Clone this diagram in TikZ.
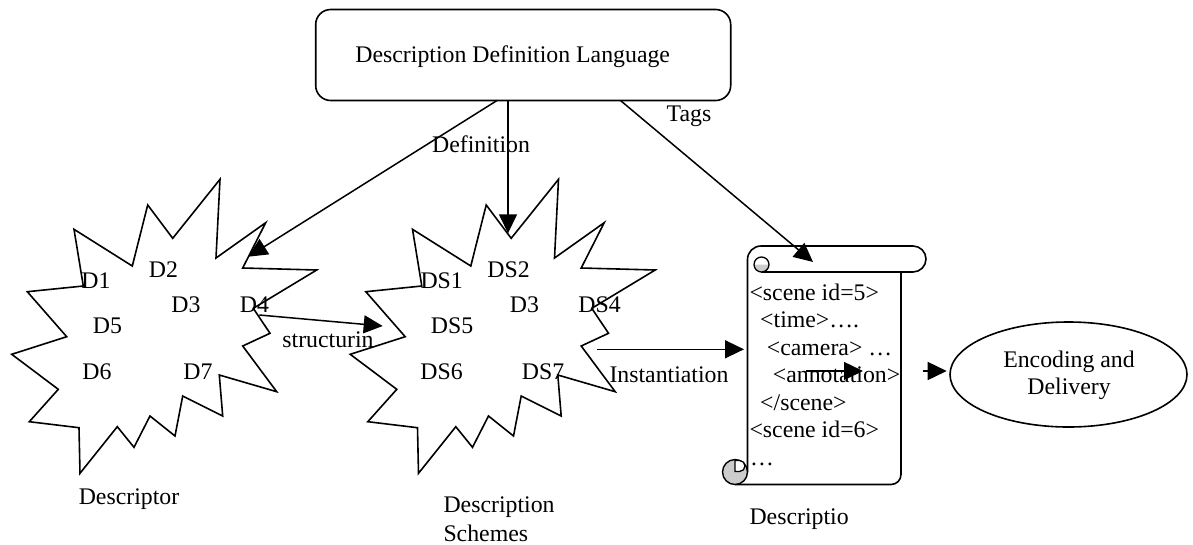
\documentclass[tikz,border=0pt]{standalone}
\usepackage{fontspec}
\setmainfont{Liberation Serif}
\usetikzlibrary{arrows.meta,shapes.geometric}
\tikzset{
  lbl/.style={inner sep=0pt, anchor=base, font=\fontsize{23.8}{27.5}\selectfont},
  lblw/.style={lbl, anchor=base west},
  arr/.style={line width=1.5pt, -{Triangle[length=19pt,width=18pt]}},
  shapeline/.style={line width=1.6pt, line join=miter},
  burst/.pic={
    \draw[shapeline] (220,179.3) -- (216,258) -- (265.7,222.7) -- (242.7,268) -- (316.7,270)
      -- (253.3,308.3) -- (270,333.3) -- (242.7,346) -- (276.7,391.7) -- (219.3,375)
      -- (222.7,416) -- (182.7,396) -- (175,436) -- (150,416) -- (134,447.3)
      -- (117.3,426.7) -- (80,473.3) -- (79,427.7) -- (29.3,421.7) -- (58.3,389.3)
      -- (11.7,354.3) -- (66.7,336.7) -- (27.3,291.7) -- (83.3,286) -- (74,229.3)
      -- (132.3,266) -- (147.7,205) -- (172.7,238.3) -- cycle;
  },
}
\begin{document}
\begin{tikzpicture}[x=1pt,y=-1pt]
\useasboundingbox (0,0) rectangle (1193,544);

% Description Definition Language box
\node[draw, line width=1.6pt, rounded corners=15pt, minimum width=415pt, minimum height=91pt, inner sep=0pt] (ddl) at (523.2,55) {};
\node[lbl] (ddltext) at (512.7,62) {Description Definition Language};

% bursts
\pic (lstar) at (0,0) {burst};
\pic (rstar) at (338.5,0) {burst};

% left burst labels
\node[lbl] (d1) at (96,288) {D1};
\node[lbl] (d2) at (163.5,277) {D2};
\node[lbl] (d3) at (186,312) {D3};
\node[lbl] (d4) at (254.5,312) {D4};
\node[lbl] (d5) at (107.5,333) {D5};
\node[lbl] (d6) at (97,379) {D6};
\node[lbl] (d7) at (198,379) {D7};
% right burst labels
\node[lbl] (ds1) at (441.7,288) {DS1};
\node[lbl] (ds2) at (508.5,277) {DS2};
\node[lbl] (ds3) at (524.5,312) {D3};
\node[lbl] (ds4) at (599.5,312) {DS4};
\node[lbl] (ds5) at (452,333) {DS5};
\node[lbl] (ds6) at (441.5,379) {DS6};
\node[lbl] (ds7) at (543,379) {DS7};

% captions
\node[lbl] (cap1) at (129,504) {Descriptor};
\node[lblw] (cap2a) at (443.3,512.5) {Description};
\node[lblw] (cap2b) at (443.3,541) {Schemes};
\node[lblw] (cap3) at (749.3,524) {Descriptio};

% scroll (y axis points down: angles are mirrored)
\draw[shapeline, line join=round] (761,246) -- (913,246) arc[start angle=-90,end angle=90,radius=13] -- (761,272);
\draw[shapeline] (747.5,472) -- (747.5,259.5) arc[start angle=180,end angle=270,radius=13.5];
\fill[gray!40] (754,264.5) arc[start angle=180,end angle=0,radius=7.5] -- cycle;
\draw[line width=1.3pt] (761.5,264.5) circle (7.5);
\draw[shapeline] (901,272) -- (901,474.5) arc[start angle=0,end angle=90,radius=10] -- (735,484.5);
\filldraw[line width=1.4pt, fill=gray!40] (735,472) circle (12.5);
\filldraw[line width=1.3pt, fill=white] (735,460.5) -- (739.5,460.5) arc[start angle=-90,end angle=90,radius=5.5] -- (735,471.5) -- cycle;

% scroll text
\node[lblw] (l1) at (749.3,300.3) {<scene id=5>};
\node[lblw] (l2) at (760,327.8) {<time>….};
\node[lblw] (l3) at (766.7,355.3) {<camera> …};
\node[lblw] (l4) at (772.7,382.8) {<annotation>};
\node[lblw] (l5) at (760,410.3) {</scene>};
\node[lblw] (l6) at (749.3,437.8) {<scene id=6>};
\node[lblw] (l7) at (750,465.3) {…};

% Encoding and Delivery
\node[draw, ellipse, line width=1.6pt, minimum width=237pt, minimum height=105pt, inner sep=0pt] (enc) at (1068.5,374.5) {};
\node[lbl] (enc1) at (1069,367.5) {Encoding and};
\node[lbl] (enc2) at (1069,394) {Delivery};

% connector end points
\coordinate (ddlA) at (496.7,100.7);
\coordinate (ddlB) at (508,100.7);
\coordinate (ddlC) at (620.7,100.7);
\coordinate (tipD) at (248.3,256.7);
\coordinate (tipDS) at (508,233.3);
\coordinate (tipSc) at (813,262);
\coordinate (stA) at (259.3,315);
\coordinate (stB) at (382.7,326);
\coordinate (inA) at (597.3,349.3);
\coordinate (inB) at (744,349.3);
\coordinate (anA) at (806,371);
\coordinate (anB) at (863,371);
\coordinate (enA) at (922.7,371);
\coordinate (enB) at (946.7,371);

\draw[arr] (ddlA) -- (tipD);
\draw[arr] (ddlB) -- (tipDS);
\draw[arr] (ddlC) -- (tipSc);
\draw[arr] (stA) -- (stB);
\draw[arr] (inA) -- (inB);
\draw[arr] (anA) -- (anB);
\draw[arr] (enA) -- (enB);

% connector labels
\node[lbl] (deflbl) at (481,152.5) {Definition};
\node[lbl] (tagslbl) at (689,121.5) {Tags};
\node[lbl] (strlbl) at (328,347) {structurin};
\node[lbl] (inslbl) at (669,382.5) {Instantiation};
\end{tikzpicture}
\end{document}
